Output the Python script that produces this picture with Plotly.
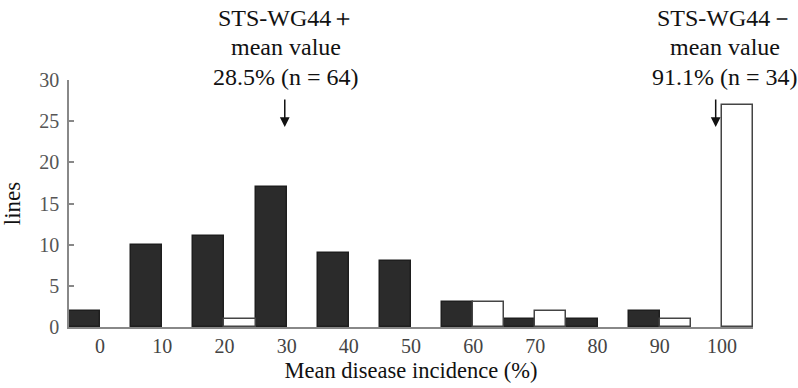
import plotly.graph_objects as go

categories = [0, 10, 20, 30, 40, 50, 60, 70, 80, 90, 100]
tick_labels = ["0", "10", "20", "30", "40", "50", "60", "70", "80", "90", "100"]
plus_counts = [2, 10, 11, 17, 9, 8, 3, 1, 1, 2, 0]     # STS-WG44+
minus_counts = [0, 0, 1, 0, 0, 0, 3, 2, 0, 1, 27]      # STS-WG44-
y_ticks = [0, 5, 10, 15, 20, 25, 30]

FONT = "Liberation Serif"
AXIS_GREY = "#888888"

def outline_width(vals):
    return [0 if v == 0 else 1.5 for v in vals]

fig = go.Figure()
fig.add_trace(go.Bar(
    x=categories, y=plus_counts, offset=-5, width=5,
    marker=dict(color="#2b2b2b", line=dict(color="#1e1e1e", width=outline_width(plus_counts))),
    name="STS-WG44+", showlegend=False,
))
fig.add_trace(go.Bar(
    x=categories, y=minus_counts, offset=0, width=5,
    marker=dict(color="white", line=dict(color="#444444", width=outline_width(minus_counts))),
    name="STS-WG44-", showlegend=False,
))

fig.update_layout(
    template="none",
    width=798, height=388,
    margin=dict(l=69, r=45, t=80, b=61, autoexpand=False),
    paper_bgcolor="white", plot_bgcolor="white",
    font=dict(family=FONT, color="#111"),
    bargap=0,
)
fig.update_xaxes(
    automargin=False,
    range=[-5, 105], tickvals=categories, ticktext=tick_labels,
    showgrid=False, zeroline=False, showline=True, linecolor=AXIS_GREY, linewidth=1.5,
    ticks="", tickfont=dict(size=20, color="#444", family=FONT),
    title=dict(text="Mean disease incidence (%)", font=dict(size=22.5, color="#111", family=FONT), standoff=6),
)
fig.update_yaxes(
    automargin=False,
    range=[0, 30], tickvals=y_ticks,
    showgrid=False, zeroline=False, showline=True, linecolor=AXIS_GREY, linewidth=1.5,
    ticks="inside", ticklen=5, tickcolor=AXIS_GREY, tickwidth=1.5, ticklabelstandoff=4,
    tickfont=dict(size=20, color="#555", family=FONT),
    title=dict(text="lines", font=dict(size=23, color="#111", family=FONT), standoff=12),
)

def label_block(xc, lines):
    ys = [1.251, 1.134, 1.012]
    for t, yy in zip(lines, ys):
        fig.add_annotation(x=xc, xref="x", y=yy, yref="paper", text=t, showarrow=False,
                           xanchor="center", yanchor="middle",
                           font=dict(size=24, color="#111", family=FONT))

label_block(29.9, ["STS-WG44＋", "mean value", "28.5% (n = 64)"])
label_block(100.5, ["STS-WG44－", "mean value", "91.1% (n = 34)"])

for xa in [29.7, 99.0]:
    fig.add_annotation(x=xa, y=24.3, xref="x", yref="y", text="", showarrow=True,
                       ax=0, ay=-29, arrowhead=2, arrowsize=1.3, arrowwidth=1.5,
                       arrowcolor="#111")

fig.write_html("out.html", config={"displayModeBar": False},
               post_script="document.body.style.margin='0';document.body.style.overflow='hidden';")
